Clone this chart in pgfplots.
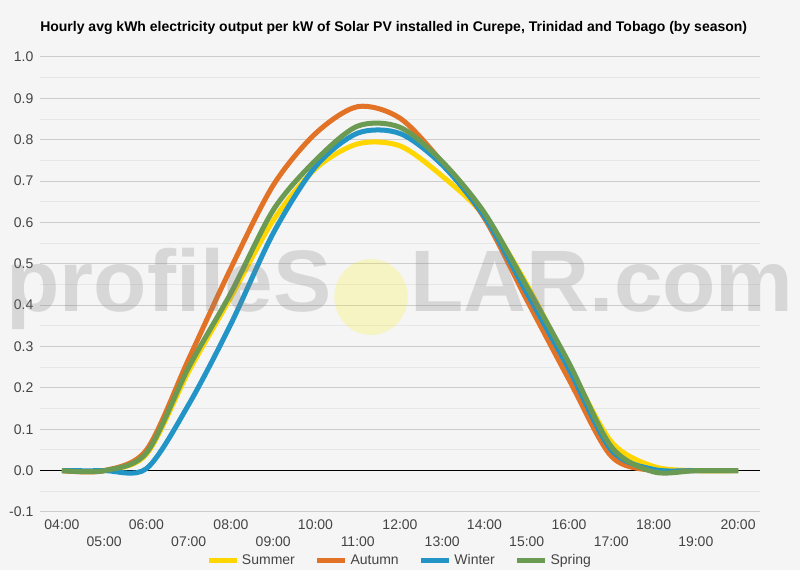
\documentclass[border=0pt]{standalone}
\usepackage{fontspec}
\setmainfont{Liberation Sans}
\usepackage{pgfplots}
\pgfplotsset{compat=1.18}

\definecolor{bg}{RGB}{245,245,245}
\definecolor{summer}{RGB}{255,214,0}
\definecolor{autumn}{RGB}{226,114,38}
\definecolor{winter}{RGB}{34,148,198}
\definecolor{spring}{RGB}{107,154,82}
\definecolor{majgrid}{RGB}{204,204,204}
\definecolor{mingrid}{RGB}{230,230,230}
\definecolor{ticktext}{RGB}{68,68,68}

\begin{document}
\begin{tikzpicture}
  \useasboundingbox (0,0) rectangle (600pt,427.5pt);
  \fill[bg] (0,0) rectangle (600pt,427.5pt);

  \node[anchor=west, font=\bfseries\fontsize{10.5}{12}\selectfont, inner sep=0pt]
    at (30pt,406.5pt) {Hourly avg kWh electricity output per kW of Solar PV installed in Curepe, Trinidad and Tobago (by season)};

  \begin{axis}[
      at={(30pt,43.5pt)},
      anchor=south west,
      scale only axis,
      width=540pt,
      height=341.25pt,
      xmin=3.48, xmax=20.52,
      ymin=-0.1, ymax=1.0,
      axis line style={draw=none},
      major tick length=0pt,
      minor tick length=0pt,
      xtick={4,6,...,20},
      xticklabels={04:00,06:00,08:00,10:00,12:00,14:00,16:00,18:00,20:00},
      extra x ticks={5,7,...,19},
      extra x tick labels={05:00,07:00,09:00,11:00,13:00,15:00,17:00,19:00},
      extra x tick style={tick label style={yshift=-12.75pt}},
      ytick={-0.1,0,0.1,0.2,0.3,0.4,0.5,0.6,0.7,0.8,0.9,1.0},
      yticklabels={-0.1,0.0,0.1,0.2,0.3,0.4,0.5,0.6,0.7,0.8,0.9,1.0},
      minor y tick num=1,
      ymajorgrids, yminorgrids,
      major grid style={majgrid, line width=0.75pt},
      minor grid style={mingrid, line width=0.75pt},
      tick label style={font=\fontsize{10.5}{12}\selectfont, text=ticktext},
      yticklabel style={xshift=-1.5pt},
      xticklabel style={yshift=-2pt},
      legend columns=4,
      legend style={
        at={(0.5,-0.1075)},
        anchor=center,
        draw=none,
        fill=none,
        inner sep=0pt,
        font=\fontsize{10.5}{12}\selectfont,
        text=ticktext,
        nodes={inner sep=2pt},
        /tikz/every even column/.append style={column sep=13pt},
      },
      legend image code/.code={\draw[#1, line width=3.75pt] (0pt,0pt) -- (21pt,0pt);},
      every axis plot/.append style={line width=3.75pt, smooth, tension=0.5},
    ]

    % zero line
    \addplot[black, line width=0.8pt, forget plot, sharp plot] coordinates {(3.48,0) (20.52,0)};

    \addplot[summer] coordinates {
      (4,0) (5,0) (6,0.040) (7,0.240) (8,0.420) (9,0.605) (10,0.730) (11,0.790)
      (12,0.785) (13,0.712) (14,0.615) (15,0.450) (16,0.255) (17,0.070)
      (18,0.010) (19,0) (20,0)
    };
    \addlegendentry{Summer}

    \addplot[autumn] coordinates {
      (4,0) (5,0) (6,0.050) (7,0.270) (8,0.490) (9,0.690) (10,0.815) (11,0.880)
      (12,0.852) (13,0.745) (14,0.610) (15,0.413) (16,0.220) (17,0.035)
      (18,0) (19,0) (20,0)
    };
    \addlegendentry{Autumn}

    \addplot[winter] coordinates {
      (4,0) (5,0) (6,0.005) (7,0.160) (8,0.355) (9,0.574) (10,0.735) (11,0.816)
      (12,0.815) (13,0.739) (14,0.614) (15,0.430) (16,0.245) (17,0.050)
      (18,0.003) (19,0) (20,0)
    };
    \addlegendentry{Winter}

    \addplot[spring] coordinates {
      (4,0) (5,0) (6,0.043) (7,0.250) (8,0.430) (9,0.630) (10,0.750) (11,0.833)
      (12,0.830) (13,0.747) (14,0.623) (15,0.445) (16,0.260) (17,0.058)
      (18,-0.003) (19,0) (20,0)
    };
    \addlegendentry{Spring}
  \end{axis}

  % watermark
  \begin{scope}[opacity=0.25]
    \node[anchor=base east, inner sep=0pt, text=gray, font=\bfseries\fontsize{65.5}{66}\selectfont]
      at (249pt,193.5pt) {profileS};
    \node[anchor=base west, inner sep=0pt, text=gray, font=\bfseries\fontsize{65.5}{66}\selectfont]
      at (307.5pt,193.5pt) {LAR.com};
  \end{scope}
  \fill[yellow, opacity=0.2] (278.25pt,204.75pt) ellipse (27.5pt and 28.5pt);
\end{tikzpicture}
\end{document}
